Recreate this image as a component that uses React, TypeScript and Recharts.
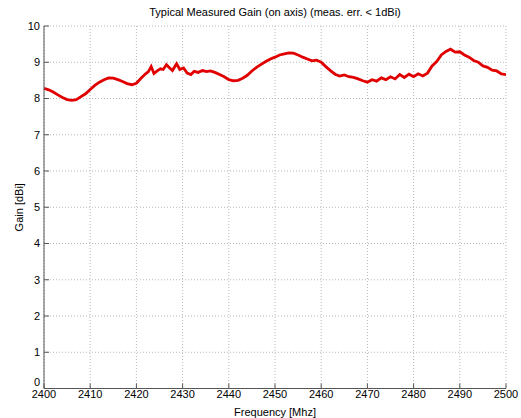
import React from 'react';
import { LineChart, Line, XAxis, YAxis, CartesianGrid } from 'recharts';

const frequencies = [
  2400, 2401, 2402, 2403, 2404, 2405, 2406, 2407, 2408, 2409,
  2410, 2411, 2412, 2413, 2414, 2415, 2416, 2417, 2418, 2419,
  2420, 2421, 2422, 2422.6, 2423.2, 2423.8, 2424.5, 2425.2, 2425.8, 2426.5,
  2427.2, 2427.8, 2428.7, 2429.4, 2430.2, 2431, 2431.8, 2432.5, 2433.4, 2434.3,
  2435.2, 2436, 2437, 2438, 2439, 2440, 2441, 2442, 2443, 2444,
  2445, 2446, 2447, 2448, 2449, 2450, 2451, 2452, 2453, 2454,
  2455, 2456, 2457, 2458, 2459, 2460, 2461, 2462, 2463, 2464,
  2465, 2466, 2467, 2468, 2469, 2470, 2471, 2472, 2473, 2474,
  2475, 2476, 2477, 2478, 2479, 2480, 2481, 2482, 2483, 2484,
  2485, 2486, 2487, 2488, 2489, 2490, 2491, 2492, 2493, 2494,
  2495, 2496, 2497, 2498, 2499, 2500,
];

const gains = [
  8.28, 8.24, 8.18, 8.1, 8.03, 7.97, 7.95, 7.97, 8.05, 8.13,
  8.25, 8.36, 8.45, 8.52, 8.57, 8.56, 8.52, 8.47, 8.41, 8.38,
  8.42, 8.56, 8.68, 8.74, 8.88, 8.69, 8.76, 8.82, 8.8, 8.93,
  8.84, 8.77, 8.96, 8.8, 8.84, 8.7, 8.66, 8.75, 8.72, 8.77,
  8.74, 8.76, 8.72, 8.66, 8.6, 8.52, 8.49, 8.5, 8.56, 8.64,
  8.76, 8.86, 8.94, 9.02, 9.09, 9.14, 9.2, 9.23, 9.26, 9.25,
  9.2, 9.14, 9.09, 9.04, 9.06, 9.0, 8.88, 8.77, 8.67, 8.62,
  8.65, 8.6, 8.58, 8.54, 8.49, 8.45, 8.52, 8.48, 8.57, 8.52,
  8.6, 8.54, 8.66, 8.58, 8.67, 8.6, 8.68, 8.62, 8.7, 8.9,
  9.02, 9.2, 9.3, 9.36, 9.28, 9.29, 9.2, 9.14, 9.05, 9.0,
  8.9, 8.86, 8.78, 8.76, 8.68, 8.66,
];

const xTicks = [2400, 2410, 2420, 2430, 2440, 2450, 2460, 2470, 2480, 2490, 2500];
const yTicks = [0, 1, 2, 3, 4, 5, 6, 7, 8, 9, 10];

const chartData = frequencies.map((f, i) => ({ freq: f, gain: gains[i] }));

const font = { fontFamily: 'Liberation Sans, Arial, sans-serif', fontSize: 11, fill: '#000' };

// matlab draws the "0" a bit higher so it clears the 2400 label
const YTick = (props: any) => {
  const { x, y, payload } = props;
  const dy = payload.value === 0 ? -6 : 0;
  return (
    <text x={x} y={y + dy} dy="0.355em" textAnchor="end" {...font}>
      {payload.value}
    </text>
  );
};

export default function App() {
  return (
    <div style={{ position: 'absolute', left: 0, top: 0, width: 521, height: 418, background: '#fff' }}>
      <div
        style={{
          position: 'absolute',
          left: 44,
          width: 462,
          top: 6,
          textAlign: 'center',
          fontFamily: 'Liberation Sans, Arial, sans-serif',
          fontSize: 11,
          color: '#000',
        }}
      >
        Typical Measured Gain (on axis) (meas. err. &lt; 1dBi)
      </div>
      <LineChart width={521} height={418} data={chartData} margin={{ top: 26, right: 15, bottom: 0, left: 0 }}>
        <CartesianGrid stroke="#b8b8b8" strokeDasharray="1 2" />
        <XAxis
          dataKey="freq"
          type="number"
          domain={[2400, 2500]}
          ticks={xTicks}
          allowDataOverflow
          height={29.5}
          stroke="#555"
          tickSize={-5}
          tickMargin={7}
          tick={font}
          label={{ value: 'Frequency [Mhz]', position: 'insideBottom', offset: 2, style: font }}
        />
        <XAxis xAxisId="top" dataKey="freq" type="number" domain={[2400, 2500]} ticks={xTicks}
          orientation="top" height={0} stroke="#555" tickSize={5} tick={false} />
        <YAxis
          type="number"
          domain={[0, 10]}
          ticks={yTicks}
          width={44}
          stroke="#555"
          tickSize={-5}
          tickMargin={9}
          tick={<YTick />}
          label={{ value: 'Gain [dBi]', angle: -90, position: 'insideLeft', offset: 19, style: { ...font, textAnchor: 'middle' } }}
        />
        <YAxis yAxisId="right" type="number" domain={[0, 10]} ticks={yTicks}
          orientation="right" width={0} stroke="#555" tickSize={5} tick={false} />
        <Line
          dataKey="gain"
          type="linear"
          stroke="#e00000"
          strokeWidth={2.8}
          dot={false}
          isAnimationActive={false}
        />
      </LineChart>
    </div>
  );
}
